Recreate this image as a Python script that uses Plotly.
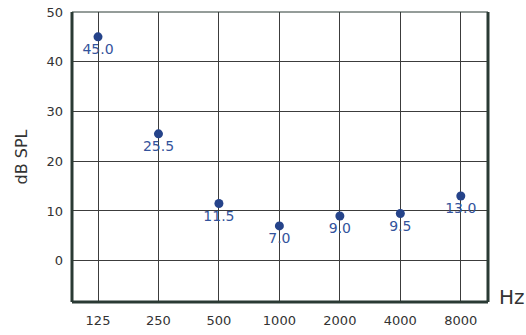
import plotly.graph_objects as go

freqs = ["125", "250", "500", "1000", "2000", "4000", "8000"]
db_spl = [45.0, 25.5, 11.5, 7.0, 9.0, 9.5, 13.0]
labels = ["45.0", "25.5", "11.5", "7.0", "9.0", "9.5", "13.0"]
y_ticks = [0, 10, 20, 30, 40, 50]

fig = go.Figure()
fig.add_trace(go.Scatter(
    x=freqs, y=db_spl, mode="markers+text",
    text=labels, textposition="bottom center",
    marker=dict(size=9, color="#25438a"),
    textfont=dict(family="DejaVu Sans", size=14, color="#33539c"),
    showlegend=False, cliponaxis=False,
))

grid = "#3c3c3c"
fig.update_xaxes(
    type="category", range=[-0.43, 6.45], automargin=False,
    showgrid=True, gridcolor=grid, gridwidth=1,
    showline=False, zeroline=False, ticks="",
    tickfont=dict(family="DejaVu Sans", size=13, color="#333333"),
    ticklabelstandoff=9,
)
fig.update_yaxes(
    range=[-8.3, 50], tickvals=y_ticks, automargin=False,
    showgrid=True, gridcolor=grid, gridwidth=1,
    showline=False, zeroline=False, ticks="",
    tickfont=dict(family="DejaVu Sans", size=13, color="#333333"),
    ticklabelstandoff=8,
    title=dict(text="dB SPL", font=dict(family="DejaVu Sans", size=16, color="#333333"), standoff=14),
)

line_dark = "#2a3a34"
fig.add_shape(type="line", xref="paper", yref="paper", x0=0, x1=0, y0=0, y1=1, line=dict(color=line_dark, width=3))
fig.add_shape(type="line", xref="paper", yref="paper", x0=0, x1=1, y0=0, y1=0, line=dict(color=line_dark, width=3))
fig.add_shape(type="line", xref="paper", yref="paper", x0=1, x1=1, y0=0, y1=1, line=dict(color=line_dark, width=3))
fig.add_shape(type="line", xref="paper", yref="paper", x0=0, x1=1, y0=1, y1=1, line=dict(color=line_dark, width=1))

fig.add_annotation(text="Hz", xref="paper", yref="paper", x=1.022, y=-0.03,
                   xanchor="left", yanchor="bottom", showarrow=False,
                   font=dict(family="DejaVu Sans", size=20, color="#333333"))

fig.update_layout(
    width=526, height=335,
    margin=dict(l=72, r=38, t=12, b=33),
    plot_bgcolor="white", paper_bgcolor="white",
)
fig.write_html("out.html", config={"displayModeBar": False},
               post_script="document.body.style.margin='0';")
